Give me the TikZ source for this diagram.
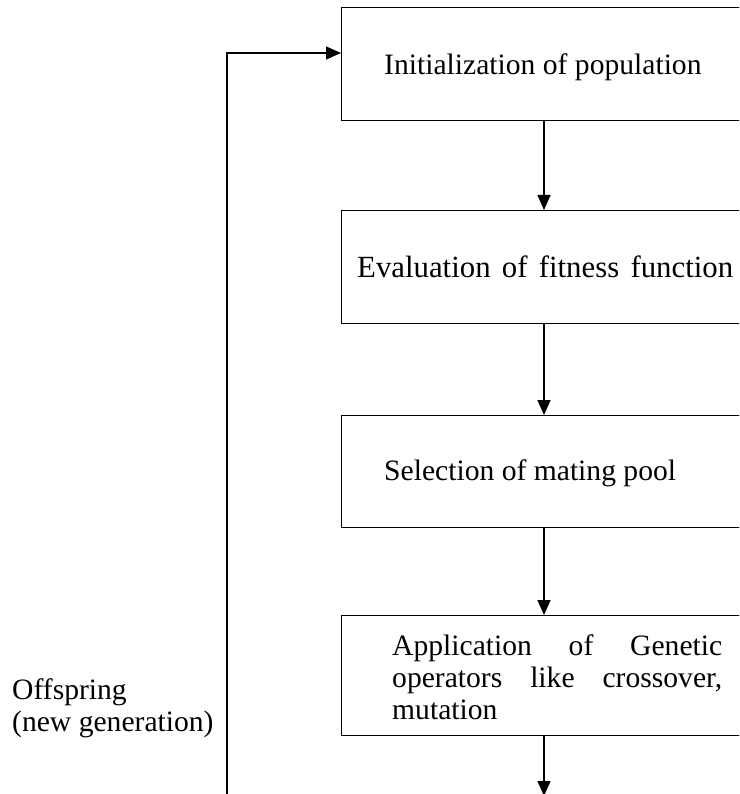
\documentclass[tikz,border=0pt]{standalone}
\usepackage{fontspec}
\setmainfont{Liberation Serif}
\usetikzlibrary{arrows.meta}
\begin{document}
\begin{tikzpicture}[x=1pt,y=-1pt,
  box/.style={draw, line width=1.4pt, minimum width=420pt, inner sep=0pt, anchor=north west},
  txt/.style={anchor=base west, inner sep=0pt, font=\fontsize{29.6}{31.7}\selectfont},
  conn/.style={line width=1.4pt, -{Triangle[length=15pt,width=13pt]}}]
\clip (0,0) rectangle (739,794);
\node[box, minimum height=113pt] (b1) at (341,7) {};
\node[box, minimum height=113pt] (b2) at (341,210) {};
\node[box, minimum height=112pt] (b3) at (341,415) {};
\node[box, minimum height=120pt] (b4) at (341,615) {};
\node[txt] (t1) at (384,75) {Initialization of population};
\node[txt, font=\fontsize{30.8}{32}\selectfont] (t2) at (357,277) {\makebox[376pt][s]{Evaluation of fitness function}};
\node[txt] (t3) at (384,480) {Selection of mating pool};
\node[txt, align=left] (t4) at (392,719) {\makebox[330pt][s]{Application of Genetic}\\\makebox[330pt][s]{operators like crossover,}\\mutation};
\node[txt, align=left] (lab) at (12,731) {Offspring\\(new generation)};
\coordinate (bot) at (544,796);
\coordinate (loopb) at (227,800);
\coordinate (loopt) at (227,53);
\draw[conn] (b1.south -| 544,0) -- (b2.north -| 544,0);
\draw[conn] (b2.south -| 544,0) -- (b3.north -| 544,0);
\draw[conn] (b3.south -| 544,0) -- (b4.north -| 544,0);
\draw[conn] (b4.south -| 544,0) -- (bot);
\draw[conn] (loopb) -- (loopt) -- (loopt -| b1.west);
\end{tikzpicture}
\end{document}
